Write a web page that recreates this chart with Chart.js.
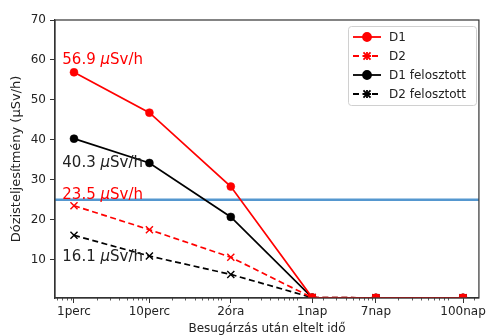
<!DOCTYPE html>
<html>
<head>
<meta charset="utf-8">
<script src="https://cdn.jsdelivr.net/npm/chart.js@4/dist/chart.umd.min.js"></script>
<style>
  html, body { margin: 0; padding: 0; background: #fff; }
  #wrap { width: 488px; height: 336px; }
</style>
</head>
<body>
<div id="wrap"><canvas id="chart" width="488" height="336"></canvas></div>
<script>
// Time after irradiation, in minutes (log axis)
const timeMinutes = [1, 10, 120, 1440, 10080, 144000];
const timeLabels = ["1perc", "10perc", "2óra", "1nap", "7nap", "100nap"];

// Dose rates (µSv/h)
const d1 = [56.9, 46.8, 28.3, 0.5, 0.45, 0.45];
const d2 = [23.5, 17.5, 10.6, 0.5, 0.45, 0.45];
const d1Split = [40.3, 34.2, 20.7, 0.5, 0.45, 0.45];
const d2Split = [16.1, 10.9, 6.3, 0.5, 0.45, 0.45];

const yTicks = [10, 20, 30, 40, 50, 60, 70];
const limitValue = 25;

// Text annotations
const noteValue = ["56.9", "40.3", "23.5", "16.1"];
const noteX = [0.7, 0.7, 0.7, 0.7];
const noteY = [59.1, 33.3, 25.3, 9.6];
const noteColor = ["#ff0000", "#222222", "#ff0000", "#222222"];

const FONT = "'DejaVu Sans', sans-serif";

function toPoints(values) {
  return values.map((v, i) => ({ x: timeMinutes[i], y: v }));
}

const datasets = [
  {
    label: "D1", data: toPoints(d1), borderColor: "#ff0000", backgroundColor: "#ff0000",
    borderWidth: 1.7, pointStyle: "circle", pointRadius: 4, pointBorderWidth: 0.5
  },
  {
    label: "D2", data: toPoints(d2), borderColor: "#ff0000", backgroundColor: "#ff0000",
    borderWidth: 1.7, borderDash: [6, 3.5], pointStyle: "crossRot", pointRadius: 5, pointBorderWidth: 1.4
  },
  {
    label: "D1 felosztott", data: toPoints(d1Split), borderColor: "#000000", backgroundColor: "#000000",
    borderWidth: 1.7, pointStyle: "circle", pointRadius: 4, pointBorderWidth: 0.5
  },
  {
    label: "D2 felosztott", data: toPoints(d2Split), borderColor: "#000000", backgroundColor: "#000000",
    borderWidth: 1.7, borderDash: [6, 3.5], pointStyle: "crossRot", pointRadius: 5, pointBorderWidth: 1.4
  }
];

// Frame, minor ticks, limit line, notes and legend
const extras = {
  id: "extras",
  beforeDatasetsDraw(chart) {
    const { ctx, chartArea: a, scales } = chart;
    const y = scales.y.getPixelForValue(limitValue);
    ctx.save();
    ctx.strokeStyle = "#5597cf";
    ctx.lineWidth = 2.5;
    ctx.beginPath();
    ctx.moveTo(a.left, y);
    ctx.lineTo(a.right, y);
    ctx.stroke();
    ctx.restore();
  },
  afterDraw(chart) {
    const { ctx, chartArea: a, scales } = chart;
    const xs = scales.x;
    ctx.save();

    // frame
    ctx.strokeStyle = "#333333";
    ctx.lineWidth = 1.2;
    ctx.strokeRect(a.left, a.top, a.right - a.left, a.bottom - a.top);

    // minor ticks of the log axis
    ctx.lineWidth = 0.8;
    ctx.beginPath();
    for (let k = -1; k <= 5; k++) {
      for (let m = 2; m <= 9; m++) {
        const v = m * Math.pow(10, k);
        if (v < xs.min || v > xs.max) continue;
        const px = Math.round(xs.getPixelForValue(v)) + 0.5;
        ctx.moveTo(px, a.bottom);
        ctx.lineTo(px, a.bottom + 2.5);
      }
    }
    ctx.stroke();

    // notes
    ctx.textBaseline = "alphabetic";
    noteValue.forEach((txt, i) => {
      let x = xs.getPixelForValue(noteX[i]);
      const y = scales.y.getPixelForValue(noteY[i]);
      ctx.fillStyle = noteColor[i];
      ctx.font = "15px " + FONT;
      ctx.fillText(txt + " ", x, y);
      x += ctx.measureText(txt + " ").width;
      ctx.font = "italic 15px " + FONT;
      ctx.fillText("μ", x, y);
      x += ctx.measureText("μ").width;
      ctx.font = "15px " + FONT;
      ctx.fillText("Sv/h", x, y);
    });

    // legend
    const bx = 348, by = 26, bw = 128, bh = 79;
    ctx.fillStyle = "rgba(255,255,255,0.85)";
    ctx.strokeStyle = "#d0d0d0";
    ctx.lineWidth = 1;
    ctx.beginPath();
    ctx.roundRect(bx + 0.5, by + 0.5, bw, bh, 3);
    ctx.fill();
    ctx.stroke();
    ctx.font = "12px " + FONT;
    ctx.textBaseline = "middle";
    datasets.forEach((ds, i) => {
      const ry = by + 11 + i * 19;
      ctx.strokeStyle = ds.borderColor;
      ctx.fillStyle = ds.borderColor;
      ctx.lineWidth = 1.8;
      ctx.setLineDash(ds.borderDash || []);
      ctx.beginPath();
      ctx.moveTo(bx + 5, ry);
      ctx.lineTo(bx + 33, ry);
      ctx.stroke();
      ctx.setLineDash([]);
      Chart.helpers.drawPoint(ctx, {
        pointStyle: ds.pointStyle, radius: ds.pointRadius, borderWidth: ds.pointBorderWidth
      }, bx + 19, ry);
      if (ds.pointStyle === "crossRot") {
        Chart.helpers.drawPoint(ctx, { pointStyle: "cross", radius: 4, borderWidth: 1.2 }, bx + 19, ry);
      }
      ctx.fillStyle = "#222222";
      ctx.fillText(ds.label, bx + 41, ry + 1);
    });
    ctx.restore();
  }
};

new Chart(document.getElementById("chart"), {
  type: "line",
  data: { datasets },
  plugins: [extras],
  options: {
    responsive: false,
    animation: false,
    layout: { padding: { top: 20, right: 5, left: 0, bottom: 0 } },
    plugins: { legend: { display: false }, tooltip: { enabled: false } },
    scales: {
      x: {
        type: "logarithmic",
        min: 0.56,
        max: 234000,
        afterBuildTicks: (s) => { s.ticks = timeMinutes.map(v => ({ value: v })); },
        afterFit: (s) => { s.height = 38; },
        ticks: {
          autoSkip: false, maxRotation: 0, padding: 2,
          color: "#222222", font: { family: FONT, size: 12 },
          callback: (v, i) => timeLabels[i]
        },
        grid: { drawOnChartArea: false, drawTicks: true, tickLength: 5, tickColor: "#333333", tickWidth: 1 },
        border: { display: true, color: "#333333", width: 1.2 },
        title: {
          display: true, text: "Besugárzás után eltelt idő",
          color: "#222222", font: { family: FONT, size: 12 }, padding: { top: 1, bottom: 0 }
        }
      },
      y: {
        min: 0.4,
        max: 70,
        afterBuildTicks: (s) => { s.ticks = yTicks.map(v => ({ value: v })); },
        afterFit: (s) => { s.width = 55; },
        ticks: { color: "#222222", font: { family: FONT, size: 12 }, padding: 4 },
        grid: { drawOnChartArea: false, drawTicks: true, tickLength: 5, tickColor: "#333333", tickWidth: 1 },
        border: { display: true, color: "#333333", width: 1.2 },
        title: {
          display: true, text: "Dózisteljesítmény (μSv/h)",
          color: "#222222", font: { family: FONT, size: 13 }, padding: { top: 9, bottom: 0 }
        }
      }
    }
  }
});
</script>
</body>
</html>
